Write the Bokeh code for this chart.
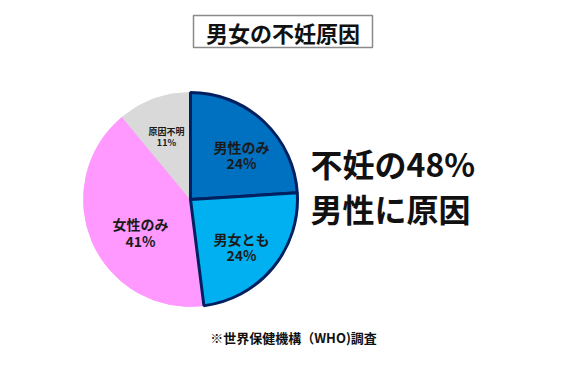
import math
from bokeh.plotting import figure
from bokeh.models import ColumnDataSource
from bokeh.core.properties import value
from bokeh.embed import file_html
from bokeh.resources import INLINE

# ---- data ----
categories = ["男性のみ", "男女とも", "女性のみ", "原因不明"]
shares = [24, 24, 41, 11]
title_text = "男女の不妊原因"
headline = ["不妊の48%", "男性に原因"]
footnote = "※世界保健機構（WHO)調査"

colors = ["#0070C0", "#00B0F0", "#FF99FF", "#D9D9D9"]
edge_colors = ["#002060", "#002060", "#FF99FF", "#D9D9D9"]
edge_widths = [3, 3, 1, 1]

W, H = 554, 351
FONT = "Noto Sans CJK JP"

def X(sx):
    return sx

def Y(sy):
    return H - sy

p = figure(width=W, height=H, x_range=(0, W), y_range=(0, H),
           output_backend="svg", toolbar_location=None, min_border=0)
p.axis.visible = False
p.grid.visible = False
p.outline_line_color = None
p.background_fill_color = "white"

total = sum(shares)
starts, ends = [], []
cum = 0.0
for s in shares:
    starts.append(math.pi / 2 - cum / total * 2 * math.pi)
    cum += s
    ends.append(math.pi / 2 - cum / total * 2 * math.pi)

cx, cy, r = X(190), Y(199), 107
order = [2, 3, 0, 1]  # draw outlined slices last
src = ColumnDataSource(dict(
    start=[starts[i] for i in order], end=[ends[i] for i in order],
    color=[colors[i] for i in order], lc=[edge_colors[i] for i in order],
    lw=[edge_widths[i] for i in order]))
p.wedge(x=cx, y=cy, radius=r, start_angle="start", end_angle="end",
        direction="clock", fill_color="color", line_color="lc",
        line_width="lw", source=src)

# slice labels
lab_pos = [(241, 146, 162, 14), (241, 238, 254, 14), (140, 223, 240, 14), (166, 131, 142, 9)]
for cat, sh, (sx, sy1, sy2, fs) in zip(categories, shares, lab_pos):
    p.text(x=[X(sx)], y=[Y(sy1)], text=[cat], text_align="center", text_baseline="middle",
           text_font=value(FONT), text_font_size=f"{fs}px", text_font_style="bold",
           text_color="#1a1a1a")
    p.text(x=[X(sx)], y=[Y(sy2)], text=[f"{sh}%"], text_align="center", text_baseline="middle",
           text_font=value(FONT), text_font_size=f"{fs}px", text_font_style="bold",
           text_color="#1a1a1a")

# title box
p.quad(left=X(193), right=X(372), top=Y(15), bottom=Y(47), fill_color=None,
       line_color="#8a8a8a", line_width=1.5)
p.text(x=[X(282.5)], y=[Y(31)], text=[title_text], text_align="center", text_baseline="middle",
       text_font=value(FONT), text_font_size="22px", text_font_style="bold", text_color="#111111")

# headline
p.text(x=[X(310)], y=[Y(162)], text=[headline[0]], text_align="left", text_baseline="middle",
       text_font=value(FONT), text_font_size="32px", text_font_style="bold", text_color="#111111")
p.text(x=[X(310)], y=[Y(207)], text=[headline[1]], text_align="left", text_baseline="middle",
       text_font=value(FONT), text_font_size="32px", text_font_style="bold", text_color="#111111")

# footnote
p.text(x=[X(293)], y=[Y(337)], text=[footnote], text_align="center", text_baseline="middle",
       text_font=value(FONT), text_font_size="13px", text_font_style="bold", text_color="#111111")

open("out.html", "w").write(file_html(p, INLINE))
